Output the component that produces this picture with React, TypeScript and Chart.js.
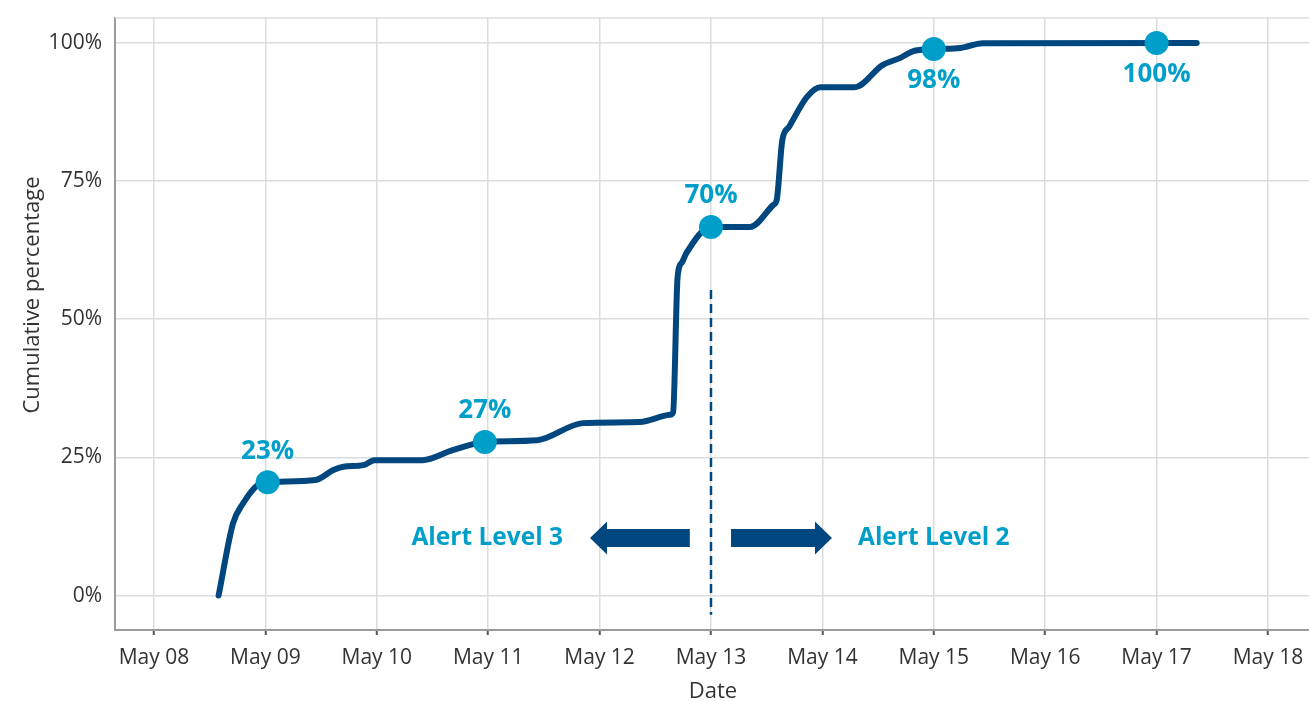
import React, { useEffect, useRef } from "react";
import { Chart, registerables } from "chart.js";

Chart.register(...registerables);

// Cumulative percentage over time (x = day of May)
const DAYS = [8.58, 8.71, 8.8, 8.93, 9.02, 9.45, 9.61, 9.7, 9.88, 9.98, 10.41, 10.68, 10.97, 11.44, 11.85, 12.36, 12.63, 12.66, 12.7, 12.74, 12.78, 13.0, 13.35, 13.56, 13.59, 13.64, 13.7, 13.86, 13.98, 14.29, 14.54, 14.7, 14.81, 15.0, 15.24, 15.44, 17.36];
const CUM = [0, 13.1, 16.7, 20.0, 20.5, 20.9, 22.7, 23.3, 23.6, 24.5, 24.5, 26.3, 27.8, 28.1, 31.2, 31.4, 32.7, 33.2, 57.6, 60.3, 62.0, 66.7, 66.7, 70.7, 71.6, 82.4, 84.8, 90.2, 92.0, 92.0, 96.0, 97.3, 98.5, 98.9, 99.1, 99.95, 100];

// Highlighted points
const MARK_DAYS = [9.02, 10.97, 13.0, 15.0, 17.0];
const MARK_VALUES = [20.5, 27.8, 66.7, 98.9, 100];
const MARK_LABELS = ["23%", "27%", "70%", "98%", "100%"];
const MARK_ABOVE = [true, true, true, false, false];

// Axis ticks
const X_TICKS = [8, 9, 10, 11, 12, 13, 14, 15, 16, 17, 18];
const Y_TICKS = [0, 25, 50, 75, 100];

// Alert level annotation
const ALERT_DAY = 13;
const ALERT_LINE_TOP = 55.3;
const ALERT_LINE_BOTTOM = -3.5;
const ALERT_Y = 10.4;
const LEFT_ARROW = [12.81, 11.914];
const RIGHT_ARROW = [13.18, 14.086];
const ALERT_LEFT_TEXT = "Alert Level 3";
const ALERT_RIGHT_TEXT = "Alert Level 2";

const DARK = "#00477f";
const LIGHT = "#009fca";
const GRID = "#dcdcdc";
const TEXT = "#333333";
const FONT = "'Open Sans', Lato, sans-serif";

const annotations = {
  id: "annotations",
  afterDatasetsDraw(chart: any) {
    const ctx = chart.ctx;
    const xs = chart.scales.x;
    const ys = chart.scales.y;
    const area = chart.chartArea;
    ctx.save();
    // top border
    ctx.strokeStyle = GRID;
    ctx.lineWidth = 1.5;
    ctx.beginPath();
    ctx.moveTo(area.left, area.top);
    ctx.lineTo(area.right, area.top);
    ctx.stroke();

    // dashed alert line
    const ax = xs.getPixelForValue(ALERT_DAY);
    ctx.strokeStyle = DARK;
    ctx.lineWidth = 2.5;
    ctx.setLineDash([9, 5]);
    ctx.beginPath();
    ctx.moveTo(ax, ys.getPixelForValue(ALERT_LINE_TOP));
    ctx.lineTo(ax, ys.getPixelForValue(ALERT_LINE_BOTTOM));
    ctx.stroke();
    ctx.setLineDash([]);

    // arrows
    const ay = ys.getPixelForValue(ALERT_Y);
    const drawArrow = (fromDay: number, toDay: number) => {
      const x0 = xs.getPixelForValue(fromDay);
      const x1 = xs.getPixelForValue(toDay);
      const dir = Math.sign(x1 - x0);
      const headLen = 17;
      const shaftH = 9;
      const headH = 16.5;
      const xh = x1 - dir * headLen;
      ctx.fillStyle = DARK;
      ctx.beginPath();
      ctx.moveTo(x0, ay - shaftH);
      ctx.lineTo(xh, ay - shaftH);
      ctx.lineTo(xh, ay - headH);
      ctx.lineTo(x1, ay);
      ctx.lineTo(xh, ay + headH);
      ctx.lineTo(xh, ay + shaftH);
      ctx.lineTo(x0, ay + shaftH);
      ctx.closePath();
      ctx.fill();
    };
    drawArrow(LEFT_ARROW[0], LEFT_ARROW[1]);
    drawArrow(RIGHT_ARROW[0], RIGHT_ARROW[1]);

    ctx.fillStyle = LIGHT;
    ctx.font = `bold 24.5px ${FONT}`;
    ctx.textBaseline = "middle";
    ctx.textAlign = "right";
    ctx.fillText(ALERT_LEFT_TEXT, xs.getPixelForValue(LEFT_ARROW[1]) - 27, ay);
    ctx.textAlign = "left";
    ctx.fillText(ALERT_RIGHT_TEXT, xs.getPixelForValue(RIGHT_ARROW[1]) + 26, ay);

    // point labels
    ctx.textAlign = "center";
    ctx.font = `bold 26px ${FONT}`;
    MARK_DAYS.forEach((d, i) => {
      const px = xs.getPixelForValue(d);
      const py = ys.getPixelForValue(MARK_VALUES[i]);
      ctx.fillText(MARK_LABELS[i], px, MARK_ABOVE[i] ? py - 31 : py + 32);
    });

    // axis titles
    ctx.fillStyle = TEXT;
    ctx.font = `22px ${FONT}`;
    ctx.textAlign = "center";
    ctx.fillText("Date", (area.left + area.right) / 2 + 1, 692);
    ctx.save();
    ctx.translate(33, 295);
    ctx.rotate(-Math.PI / 2);
    ctx.fillText("Cumulative percentage", 0, 0);
    ctx.restore();
    ctx.restore();
  },
};

export default function App() {
  const ref = useRef<HTMLCanvasElement>(null);
  useEffect(() => {
    document.body.style.margin = "0";
    const chart = new Chart(ref.current!, {
      type: "line",
      data: {
        datasets: [
          {
            label: "marks",
            data: MARK_DAYS.map((d, i) => ({ x: d, y: MARK_VALUES[i] })),
            showLine: false,
            pointRadius: 12,
            pointBackgroundColor: LIGHT,
            pointBorderWidth: 0,
            order: 0,
          },
          {
            label: "cumulative",
            data: DAYS.map((d, i) => ({ x: d, y: CUM[i] })),
            borderColor: DARK,
            borderWidth: 6,
            pointRadius: 0,
            cubicInterpolationMode: "monotone",
            borderCapStyle: "round",
            borderJoinStyle: "round",
            fill: false,
            order: 1,
          },
        ],
      },
      options: {
        animation: false,
        responsive: true,
        maintainAspectRatio: false,
        layout: { autoPadding: false, padding: { top: 18, right: 0, left: 0, bottom: 0 } },
        plugins: { legend: { display: false }, tooltip: { enabled: false } },
        scales: {
          x: {
            type: "linear",
            min: 7.65,
            max: 18.368,
            afterBuildTicks: (s: any) => {
              s.ticks = X_TICKS.map((v) => ({ value: v }));
            },
            afterFit: (s: any) => {
              s.height = 71;
              s.paddingLeft = 0;
              s.paddingRight = 0;
            },
            ticks: {
              callback: (v: any) => `May ${String(v).padStart(2, "0")}`,
              color: TEXT,
              font: { family: FONT, size: 21 },
              padding: 10,
              maxRotation: 0,
              autoSkip: false,
            },
            grid: { color: GRID, lineWidth: 1.5, tickLength: 5, tickColor: "#555", tickWidth: 2 },
            border: { color: "#9a9a9a", width: 2 },
          },
          y: {
            type: "linear",
            min: -6.24,
            max: 104.52,
            afterBuildTicks: (s: any) => {
              s.ticks = Y_TICKS.map((v) => ({ value: v }));
            },
            afterFit: (s: any) => {
              s.width = 115;
              s.paddingTop = 0;
              s.paddingBottom = 0;
            },
            ticks: {
              callback: (v: any) => `${v}%`,
              color: TEXT,
              font: { family: FONT, size: 21 },
              padding: 13,
            },
            grid: { color: GRID, lineWidth: 1.5, drawTicks: false },
            border: { color: "#9a9a9a", width: 2 },
          },
        },
      },
      plugins: [annotations],
    });
    return () => chart.destroy();
  }, []);
  return (
    <div style={{ position: "absolute", left: 0, top: 0, width: 1309, height: 701 }}>
      <canvas ref={ref} />
    </div>
  );
}
